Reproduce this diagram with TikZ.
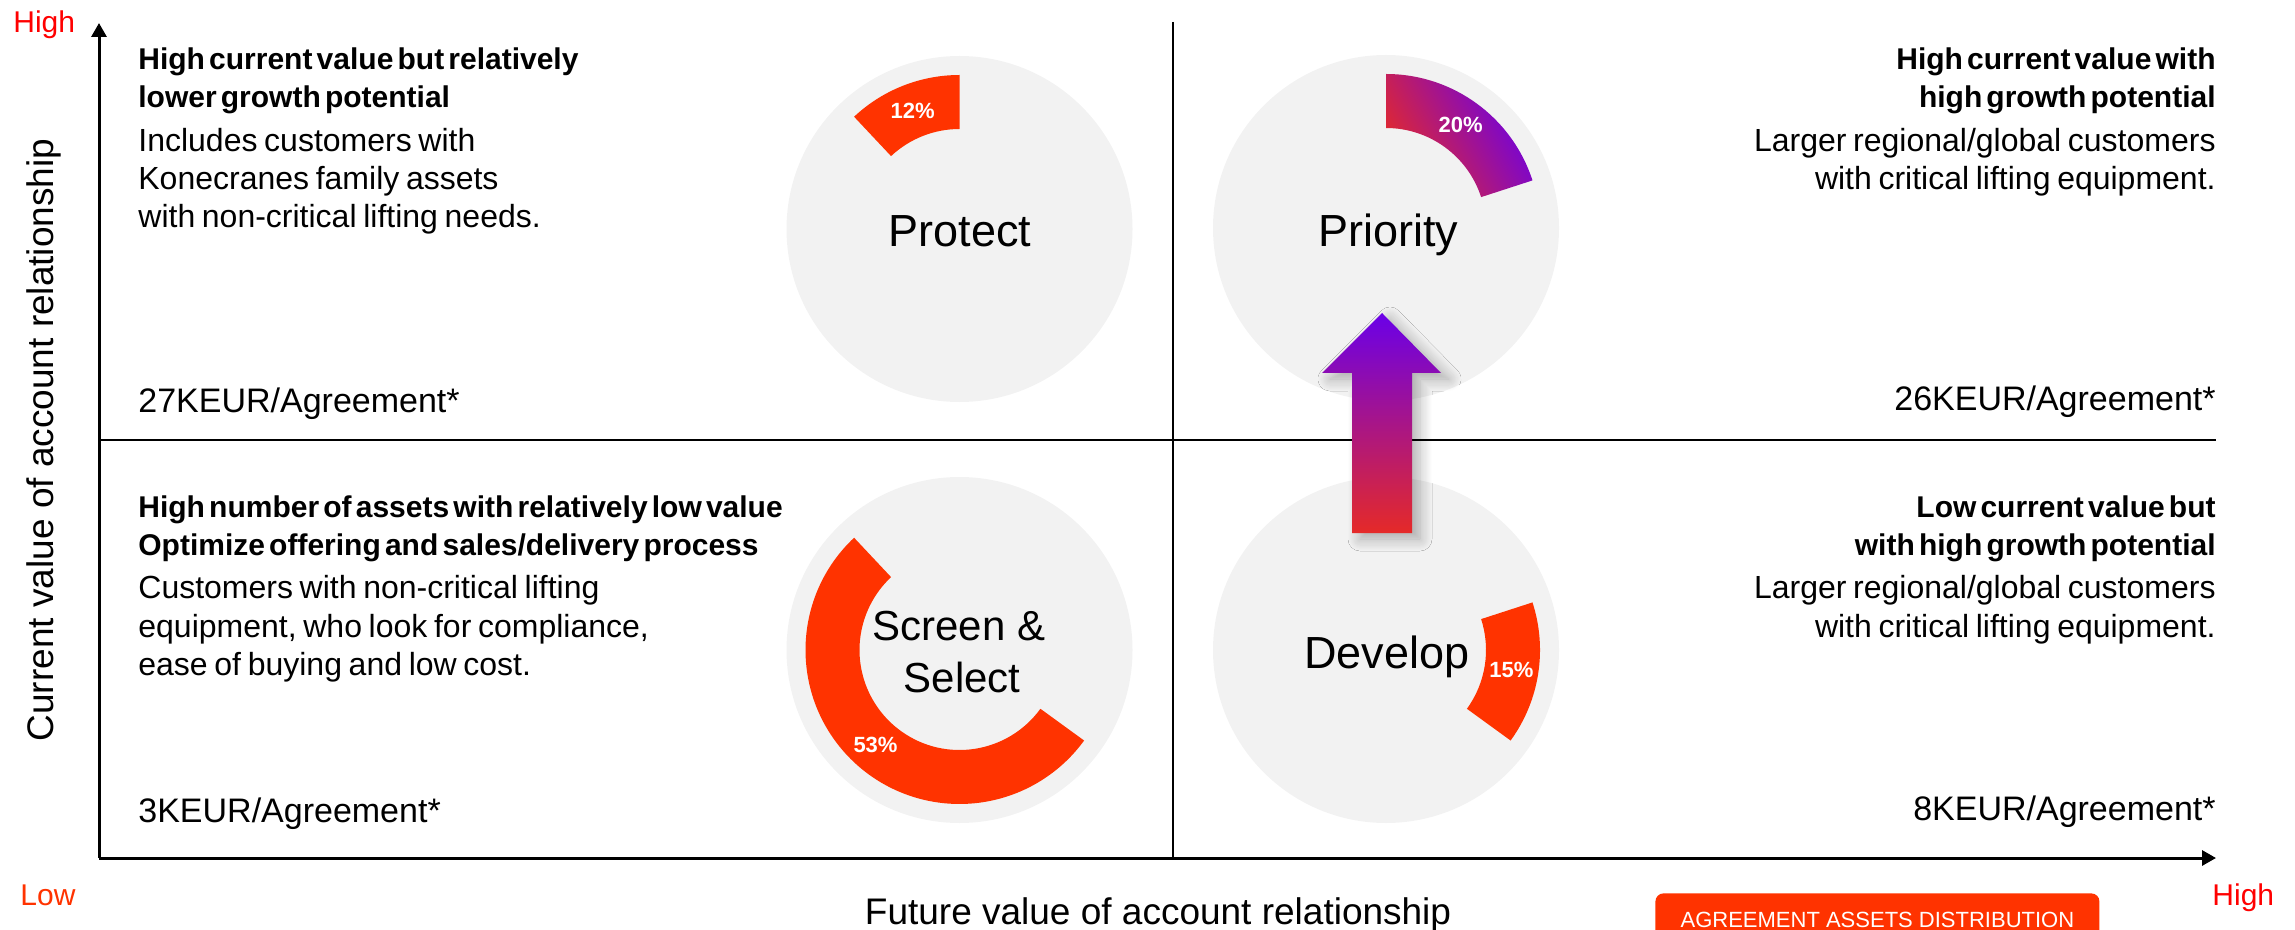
\documentclass[tikz,border=0pt]{standalone}
\usepackage{fontspec}
\setmainfont{Liberation Sans}
\newfontfamily\qfont[WordSpace=0.75,BoldFont=Liberation Sans Bold,BoldFeatures={WordSpace=0.5}]{Liberation Sans}
\usetikzlibrary{arrows.meta,calc,shadows.blur}
\definecolor{ring}{HTML}{FF3300}
\definecolor{disc}{HTML}{F2F2F2}
\definecolor{gred}{HTML}{E52A28}
\definecolor{gpur}{HTML}{6A00E8}
\definecolor{hired}{HTML}{FF0000}
\newcommand{\fs}[1]{\fontsize{#1pt}{#1pt}\selectfont}
\tikzset{
  head/.style={font=\qfont\bfseries\fs{15}, inner sep=0pt},
  body/.style={font=\qfont\fs{16}, inner sep=0pt},
  kpi/.style={font=\qfont\fs{17}, inner sep=0pt},
  disclab/.style={font=\fs{22.5}, inner sep=0pt},
  disclabs/.style={font=\fs{21}, inner sep=0pt},
  pct/.style={font=\bfseries\fs{11}, text=white, inner sep=0pt},
  axisline/.style={line width=1.5pt, -{Triangle[length=7pt,width=7.5pt]}},
  midline/.style={line width=1.3pt},
  lvl/.style={font=\fs{15}, inner sep=0pt},
  axlab/.style={font=\fs{18.5}, inner sep=0pt},
  discfill/.style={fill=disc},
}
\begin{document}
\begin{tikzpicture}[x=0.5pt,y=-0.5pt]
\useasboundingbox (0,0) rectangle (2295,930);
\clip (0,0) rectangle (2295,930);
% axes and quadrant lines
\coordinate (O) at (99,858);
\coordinate (Ytip) at (99,23);
\coordinate (Xtip) at (2216,858);
\coordinate (Hl) at (99,440);
\coordinate (Hr) at (2216,440);
\coordinate (Vt) at (1173,22);
\coordinate (Vb) at (1173,858);
\draw[midline] (Hl) -- (Hr);
\draw[midline] (Vt) -- (Vb);
\draw[axisline] (O) -- (Ytip);
\draw[axisline] (O) -- (Xtip);
% axis labels
\node[lvl, text=hired, anchor=base west] (hiY) at (13,33) {High};
\node[lvl, text=ring, anchor=base west] (lo) at (20,905) {Low};
\node[lvl, text=hired, anchor=base west] (hiX) at (2212,905) {High};
\node[axlab, rotate=90, anchor=base] (ylab) at (53,440) {Current value of account relationship};
\node[axlab, anchor=base] (xlab) at (1158,924) {Future value of account relationship};
% discs
\coordinate (cP) at (959.5,229);
\coordinate (cR) at (1386,228);
\coordinate (cS) at (959.5,650);
\coordinate (cD) at (1386,650);
\fill[discfill] (cP) circle[radius=173];
\fill[discfill] (cR) circle[radius=173];
\fill[discfill] (cS) circle[radius=173];
\fill[discfill] (cD) circle[radius=173];
% ring segments
\fill[ring] ($(cP)+(-90:154)$) arc[start angle=-90, end angle=-133.2, radius=154]
  -- ($(cP)+(-133.2:100)$) arc[start angle=-133.2, end angle=-90, radius=100] -- cycle;
\shade[top color=gpur, bottom color=gred, shading angle=-60]
  ($(cR)+(-18:154)$) arc[start angle=-18, end angle=-90, radius=154]
  -- ($(cR)+(-90:100)$) arc[start angle=-90, end angle=-18, radius=100] -- cycle;
\fill[ring] ($(cS)+(-133.2:154)$) arc[start angle=-133.2, end angle=-324, radius=154]
  -- ($(cS)+(-324:100)$) arc[start angle=-324, end angle=-133.2, radius=100] -- cycle;
\fill[ring] ($(cD)+(36:154)$) arc[start angle=36, end angle=-18, radius=154]
  -- ($(cD)+(-18:100)$) arc[start angle=-18, end angle=36, radius=100] -- cycle;
% percentages
\node[pct] (pP) at ($(cP)+(-111.6:127)$) {12\%};
\node[pct] (pR) at ($(cR)+(-54:127)$) {20\%};
\node[pct] (pS) at ($(cS)+(-228.6:127)$) {53\%};
\node[pct] (pD) at ($(cD)+(9:127)$) {15\%};
% disc labels
\node[disclab, anchor=base] (lP) at (960,247) {Protect};
\node[disclab, anchor=base] (lR) at (1388,247) {Priority};
\node[disclab, anchor=base] (lD) at (1387,668) {Develop};
\node[disclabs, anchor=base] (lS1) at (959,640) {Screen \&};
\node[disclabs, anchor=base] (lS2) at (962,692) {Select};
% growth arrow
\shade[top color=gpur, bottom color=gred,
  blur shadow={shadow xshift=4pt, shadow yshift=-3pt, shadow blur steps=12, shadow blur radius=6pt, shadow opacity=30}]
  (1382,313) -- (1441,373) -- (1412,373) -- (1412,533) -- (1352,533) -- (1352,373) -- (1322,373) -- cycle;
% top-left quadrant
\node[head, anchor=base west] (tl1) at (138,70) {High current value but relatively};
\node[head, anchor=base west] (tl2) at (138,108) {lower growth potential};
\node[body, anchor=base west] (tl3) at (138,152) {Includes customers with};
\node[body, anchor=base west] (tl4) at (138,190) {Konecranes family assets};
\node[body, anchor=base west] (tl5) at (138,228) {with non-critical lifting needs.};
\node[kpi, anchor=base west] (tlk) at (138,412) {27KEUR/Agreement*};
% top-right quadrant
\node[head, anchor=base east] (tr1) at (2216,70) {High current value with};
\node[head, anchor=base east] (tr2) at (2216,108) {high growth potential};
\node[body, anchor=base east] (tr3) at (2216,152) {Larger regional/global customers};
\node[body, anchor=base east] (tr4) at (2216,190) {with critical lifting equipment.};
\node[kpi, anchor=base east] (trk) at (2216,410) {26KEUR/Agreement*};
% bottom-left quadrant
\node[head, anchor=base west] (bl1) at (138,517) {High number of assets with relatively low value};
\node[head, anchor=base west] (bl2) at (138,555) {Optimize offering and sales/delivery process};
\node[body, anchor=base west] (bl3) at (138,598) {Customers with non-critical lifting};
\node[body, anchor=base west] (bl4) at (138,637) {equipment, who look for compliance,};
\node[body, anchor=base west] (bl5) at (138,675) {ease of buying and low cost.};
\node[kpi, anchor=base west] (blk) at (138,822) {3KEUR/Agreement*};
% bottom-right quadrant
\node[head, anchor=base east] (br1) at (2216,517) {Low current value but};
\node[head, anchor=base east] (br2) at (2216,555) {with high growth potential};
\node[body, anchor=base east] (br3) at (2216,598) {Larger regional/global customers};
\node[body, anchor=base east] (br4) at (2216,637) {with critical lifting equipment.};
\node[kpi, anchor=base east] (brk) at (2216,820) {8KEUR/Agreement*};
% legend box
\node[fill=ring, rounded corners=4pt, minimum width=222pt, minimum height=27pt, inner sep=0pt,
  text=white, font=\fs{11}, anchor=north west] (ag) at (1655,893) {AGREEMENT ASSETS DISTRIBUTION};
\end{tikzpicture}
\end{document}
